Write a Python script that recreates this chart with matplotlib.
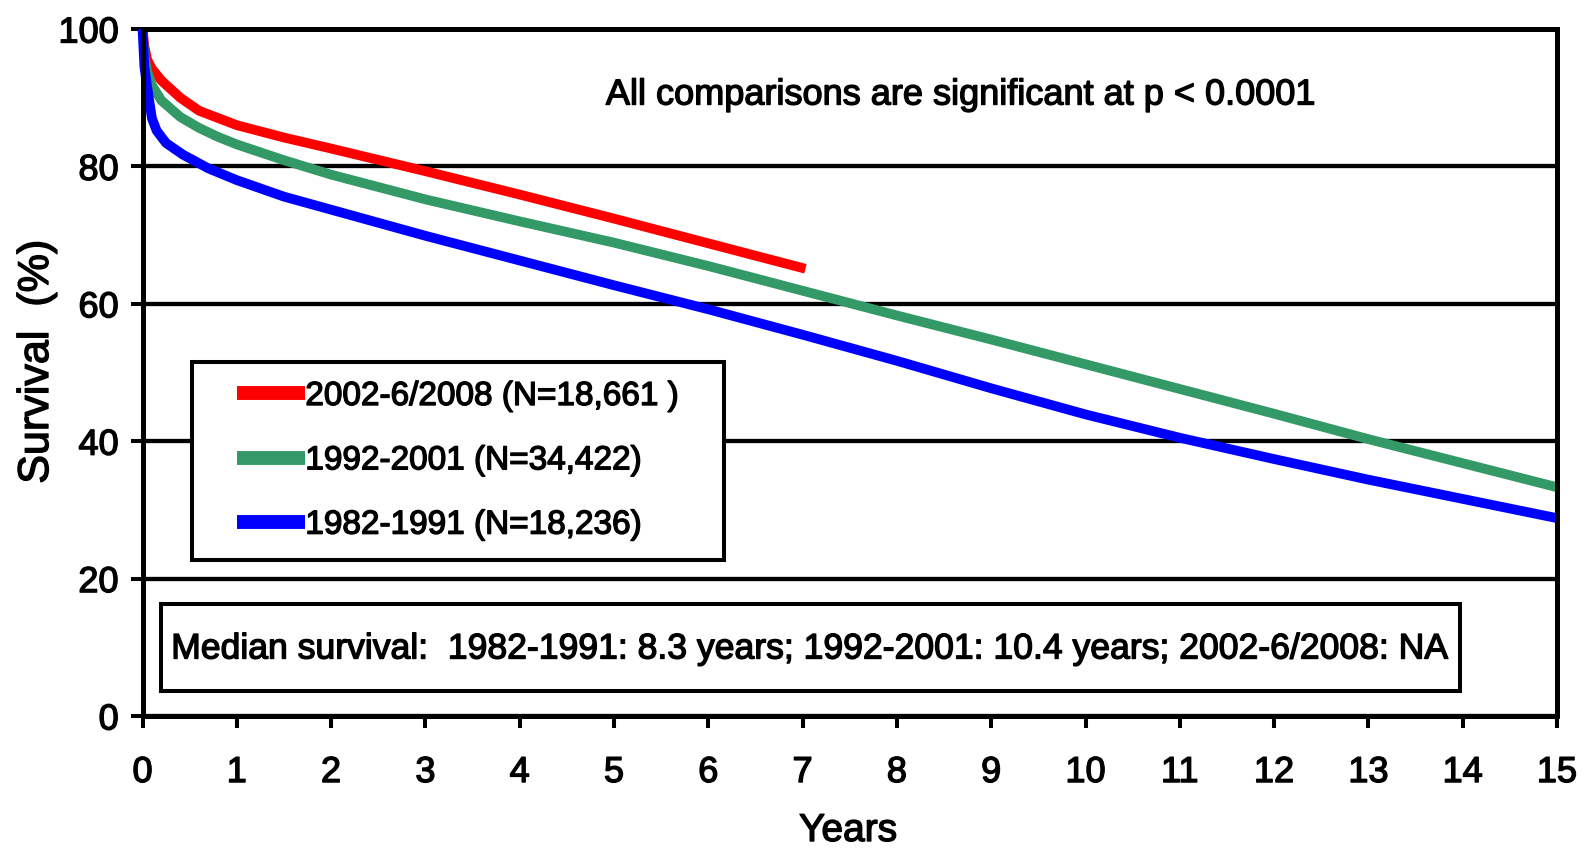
import matplotlib
matplotlib.use('Agg')

import matplotlib.pyplot as plt
import matplotlib.patheffects as pe
from matplotlib.patches import Rectangle

plt.rcParams['font.family'] = ['Liberation Sans', 'DejaVu Sans']

# Survival (%)
t_red = [0, 0.02, 0.05, 0.1, 0.2, 0.4, 0.6, 1, 1.5, 2, 3, 4, 5, 6, 7.03]
s_red = [100, 97.5, 95.5, 94.2, 92.5, 90.0, 88.1, 86.0, 84.2, 82.6, 79.3, 75.9,
         72.4, 68.8, 65.1]

t_green = [0, 0.02, 0.05, 0.1, 0.2, 0.4, 0.6, 0.8, 1, 1.5, 2, 3, 4, 5, 6, 7,
           8, 9, 10, 11, 12, 13, 14, 15]
s_green = [100, 96, 93.8, 91.8, 89.6, 87.2, 85.6, 84.3, 83.2, 80.9, 78.8, 75.2, 72.0,
           68.9, 65.5, 61.9, 58.3, 54.8, 51.2, 47.6, 44.0, 40.3, 36.8, 33.3]

t_blue = [0, 0.02, 0.05, 0.1, 0.15, 0.25, 0.43, 0.7, 1, 1.5, 2, 3, 4, 5, 6,
          7, 8, 9, 10, 11, 12, 13, 14, 15]
s_blue = [100, 94.5, 91.5, 87.0, 85.2, 83.4, 81.7, 79.7, 78.0, 75.6, 73.7, 69.9,
          66.3, 62.7, 59.2, 55.5, 51.7, 47.7, 43.9, 40.5, 37.4, 34.4, 31.6, 28.8]

labels = ['2002-6/2008 (N=18,661 )', '1992-2001 (N=34,422)', '1982-1991 (N=18,236)']
colors = ['#ff0000', '#339966', '#0000ff']

x_ticks = list(range(0, 16))
y_ticks = [0, 20, 40, 60, 80, 100]

W, H = 1586, 851
heavy = [pe.withStroke(linewidth=1.0, foreground='black')]


def px(x, y):
    # pixel position (from top-left) -> figure fraction
    return x / W, 1 - y / H


fig = plt.figure(figsize=(W / 100, H / 100), dpi=100)
ax = fig.add_axes([142.5 / W, 1 - 716 / H, (1557 - 142.5) / W, (716 - 29) / H])

ax.plot(t_red, s_red, color=colors[0], lw=7, solid_capstyle='butt', label=labels[0], zorder=3)
ax.plot(t_green, s_green, color=colors[1], lw=7, solid_capstyle='butt', label=labels[1], zorder=3)
ax.plot(t_blue, s_blue, color=colors[2], lw=7, solid_capstyle='butt', label=labels[2], zorder=3,
        clip_on=False)

ax.set_xlim(0, 15)
ax.set_ylim(0, 100)
ax.set_xticks(x_ticks)
ax.set_yticks(y_ticks)
ax.tick_params(direction='out', length=8.6, width=2.9, labelsize=26, color='black')
ax.tick_params(axis='x', pad=19.5)
ax.tick_params(axis='y', pad=8.6)
for lab in ax.get_xticklabels() + ax.get_yticklabels():
    lab.set_path_effects(heavy)
ax.yaxis.grid(True, color='black', lw=3.1)
ax.set_axisbelow(True)
for sp in ax.spines.values():
    sp.set_linewidth(3.6)
    sp.set_zorder(4)

# axis titles
fig.text(*px(37, 362), 'Survival  (%)', rotation=90, ha='center', va='center', fontsize=31,
         path_effects=heavy)
fig.text(*px(848, 841), 'Years', ha='center', va='baseline', fontsize=28, path_effects=heavy)

# note at the top
fig.text(*px(960, 95), 'All comparisons are significant at p < 0.0001',
         ha='center', va='center', fontsize=26, path_effects=heavy)

# legend box
x0, y1 = px(192, 560)
ax.add_patch(Rectangle((x0, y1), (724 - 192) / W, (560 - 361.5) / H, transform=fig.transFigure,
                       facecolor='white', edgecolor='black', lw=2.9, zorder=4, clip_on=False))
leg = ax.legend(loc='upper left', bbox_to_anchor=px(237, 381), bbox_transform=fig.transFigure,
                frameon=False, fontsize=24, borderpad=0, borderaxespad=0,
                handlelength=2.05, handletextpad=0.0, labelspacing=1.0)
leg.set_zorder(5)
for ln in leg.get_lines():
    ln.set_linewidth(10)
for txt in leg.get_texts():
    txt.set_path_effects(heavy)

# median survival box
x0, y1 = px(161, 691)
ax.add_patch(Rectangle((x0, y1), (1460 - 161) / W, (691 - 604) / H, transform=fig.transFigure,
                       facecolor='white', edgecolor='black', lw=2.9, zorder=4, clip_on=False))
fig.text(*px(808, 649),
         'Median survival:  1982-1991: 8.3 years; 1992-2001: 10.4 years; 2002-6/2008: NA',
         ha='center', va='center', fontsize=25.6, path_effects=heavy)

fig.savefig('out.png', dpi=100)
